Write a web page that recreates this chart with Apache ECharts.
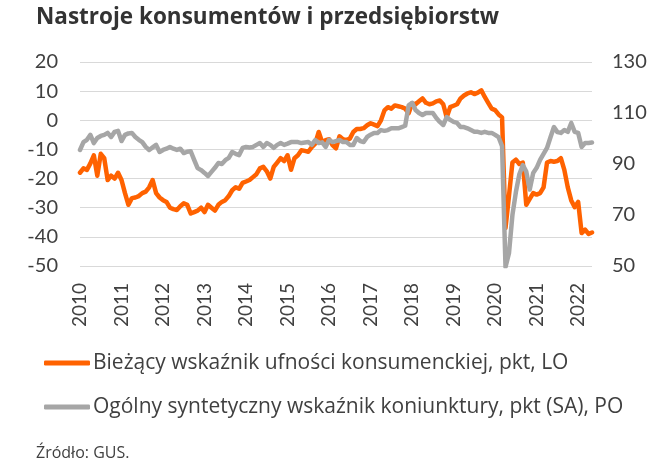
<!DOCTYPE html>
<html>
<head>
<meta charset="utf-8">
<script src="https://cdn.jsdelivr.net/npm/echarts@6/dist/echarts.min.js"></script>
<style>
html,body{margin:0;padding:0;background:#fff;}
#chart{width:671px;height:467px;}
</style>
</head>
<body>
<div id="chart"></div>
<script>
// Year tick labels
const yearLabels = ['2010','2011','2012','2013','2014','2015','2016','2017','2018','2019','2020','2021','2022'];
const monthsInLastYear = 5;

// Bieżący wskaźnik ufności konsumenckiej (left axis), monthly Jan 2010 – May 2022
const consumerConfidence = [
  -18, -16.5, -17, -14.8, -12, -19, -11.5, -13, -20.5, -19, -20, -18,
  -20.5, -25, -29, -26.7, -26.5, -26, -25, -24.5, -23, -20.5, -25, -26.5,
  -27.4, -28, -30, -30.5, -30.8, -29.5, -28.5, -29, -32, -31.5, -31, -30,
  -31.5, -29, -30, -31, -29, -28, -27.4, -26, -24, -23, -23.5, -21.5,
  -21, -20.5, -19.5, -18.5, -16.5, -16, -17.5, -20, -16, -14.5, -13, -14,
  -12, -17, -13, -12, -10.3, -10.5, -10.8, -9.2, -8, -4, -7.5, -6.8,
  -6.5, -8.5, -9.6, -5.5, -6.5, -6.8, -6.3, -4, -3, -3, -2.7, -1.7,
  -1, -1.5, -2, 0, 3.4, 4.5, 4, 5.1, 4.8, 4.5, 4, 2.4,
  5.8, 5.5, 6.5, 7.5, 6, 5.5, 5.8, 6.5, 6.8, 5.5, 1, 4.5,
  5, 5.5, 7.5, 8.5, 9.2, 9.6, 9, 9.5, 10.3, 8, 6, 4,
  3.5, 2, 1, -37, -26, -14.5, -13.5, -15, -14.5, -29, -27, -25,
  -25.5, -25, -23, -14.5, -14, -14.2, -14, -13, -17, -23, -27.5, -29.8,
  -28, -38.7, -37.5, -39, -38.5
];

// Ogólny syntetyczny wskaźnik koniunktury (right axis), monthly Jan 2010 – May 2022
const businessClimate = [
  95.5, 98.6, 99.5, 101.4, 98.2, 100.2, 101, 101.4, 102.2, 100.6, 102.6, 103,
  99, 101.4, 102, 102.2, 100.6, 99.5, 98.6, 96.7, 95.5, 96.5, 97.5, 94.7,
  95.5, 96, 96.7, 96, 95.5, 96, 94.3, 94.8, 95, 91.6, 88.4, 87.6,
  86.5, 85.3, 86.9, 88.5, 90.4, 90, 91.5, 92.4, 94.7, 94, 93.5, 96.3,
  96.7, 96.5, 96.7, 97.5, 98.2, 96.7, 98.2, 97.5, 96.3, 97.5, 98.2, 97.5,
  98, 98.6, 98.6, 98.6, 98.2, 98.4, 98.6, 97.5, 99.4, 98.2, 98.5, 96.7,
  99.5, 98.6, 99, 99.4, 98.6, 98.6, 97.5, 97.5, 100.2, 99, 98.6, 100.6,
  101.5, 102.2, 102.2, 103.3, 103, 103.3, 104, 104, 104, 104.5, 105, 113,
  114, 111.2, 110, 109.2, 110, 110, 110, 108, 106.5, 105.3, 108.4, 107.3,
  106.5, 106.1, 104.5, 104.5, 104, 103.3, 102.6, 102.6, 102.2, 102.6, 102.2, 102.2,
  101.4, 100.5, 97, 49.6, 55, 70, 79, 86, 89.6, 87, 80, 86.5,
  88.5, 91.6, 94, 96.3, 100.5, 104.5, 102.5, 102.2, 103.3, 102.6, 106.1, 102.6,
  102.2, 96.7, 98.2, 98.2, 98.4
];

const seriesNames = [
  'Bieżący wskaźnik ufności konsumenckiej, pkt, LO',
  'Ogólny syntetyczny wskaźnik koniunktury, pkt (SA), PO'
];
const titleText = 'Nastroje konsumentów i przedsiębiorstw';
const sourceText = 'Źródło: GUS.';

// month categories
const categories = [];
yearLabels.forEach((y, yi) => {
  const n = (yi === yearLabels.length - 1) ? monthsInLastYear : 12;
  for (let m = 1; m <= n; m++) categories.push(y + '-' + (m < 10 ? '0' + m : m));
});

const FONT = 'Open Sans';
const TXT = '#404040';

const chart = echarts.init(document.getElementById('chart'), null, {renderer: 'canvas'});
chart.setOption({
  animation: false,
  textStyle: {fontFamily: FONT},
  title: {
    text: titleText,
    left: 36, top: 6, padding: 0,
    textStyle: {fontFamily: FONT, fontSize: 22.5, fontWeight: 'bold', color: '#333333'}
  },
  legend: {
    orient: 'vertical',
    left: 44, top: 352, padding: 0,
    data: seriesNames,
    icon: 'roundRect',
    itemWidth: 46, itemHeight: 5,
    itemGap: 22,
    textStyle: {fontFamily: FONT, fontSize: 21, lineHeight: 22, color: TXT, padding: [0,0,0,-2]}
  },
  graphic: [{
    type: 'text', left: 36, top: 445,
    style: {text: sourceText, font: '16px "Open Sans"', fill: TXT}
  }],
  grid: {left: 80, right: 79, top: 62, bottom: 201, containLabel: false},
  xAxis: {
    type: 'category',
    data: categories,
    boundaryGap: false,
    axisLine: {show: false},
    axisTick: {show: false},
    splitLine: {show: false},
    axisLabel: {
      interval: (i) => i % 12 === 0,
      formatter: (v) => v.slice(0, 4),
      rotate: 90,
      margin: 17,
      fontSize: 19,
      color: TXT,
      fontFamily: 'Lato'
    }
  },
  yAxis: [{
    type: 'value',
    min: -50, max: 20, interval: 10,
    axisLine: {show: false},
    axisTick: {show: false},
    axisLabel: {fontSize: 20, color: TXT, margin: 22, fontFamily: 'Lato'},
    splitLine: {lineStyle: {color: '#d9d9d9', width: 1}}
  }, {
    type: 'value',
    min: 50, max: 130, interval: 20,
    axisLine: {show: false},
    axisTick: {show: false},
    axisLabel: {fontSize: 20, color: TXT, margin: 20, fontFamily: 'Lato'},
    splitLine: {show: false}
  }],
  series: [{
    name: seriesNames[0],
    type: 'line',
    yAxisIndex: 0,
    data: consumerConfidence,
    showSymbol: false,
    color: '#FF6200',
    lineStyle: {width: 4.5, color: '#FF6200', join: 'round', cap: 'round'}
  }, {
    name: seriesNames[1],
    type: 'line',
    yAxisIndex: 1,
    data: businessClimate,
    showSymbol: false,
    color: '#A6A6A6',
    lineStyle: {width: 4.5, color: '#A6A6A6', join: 'round', cap: 'round'}
  }]
});
</script>
</body>
</html>
